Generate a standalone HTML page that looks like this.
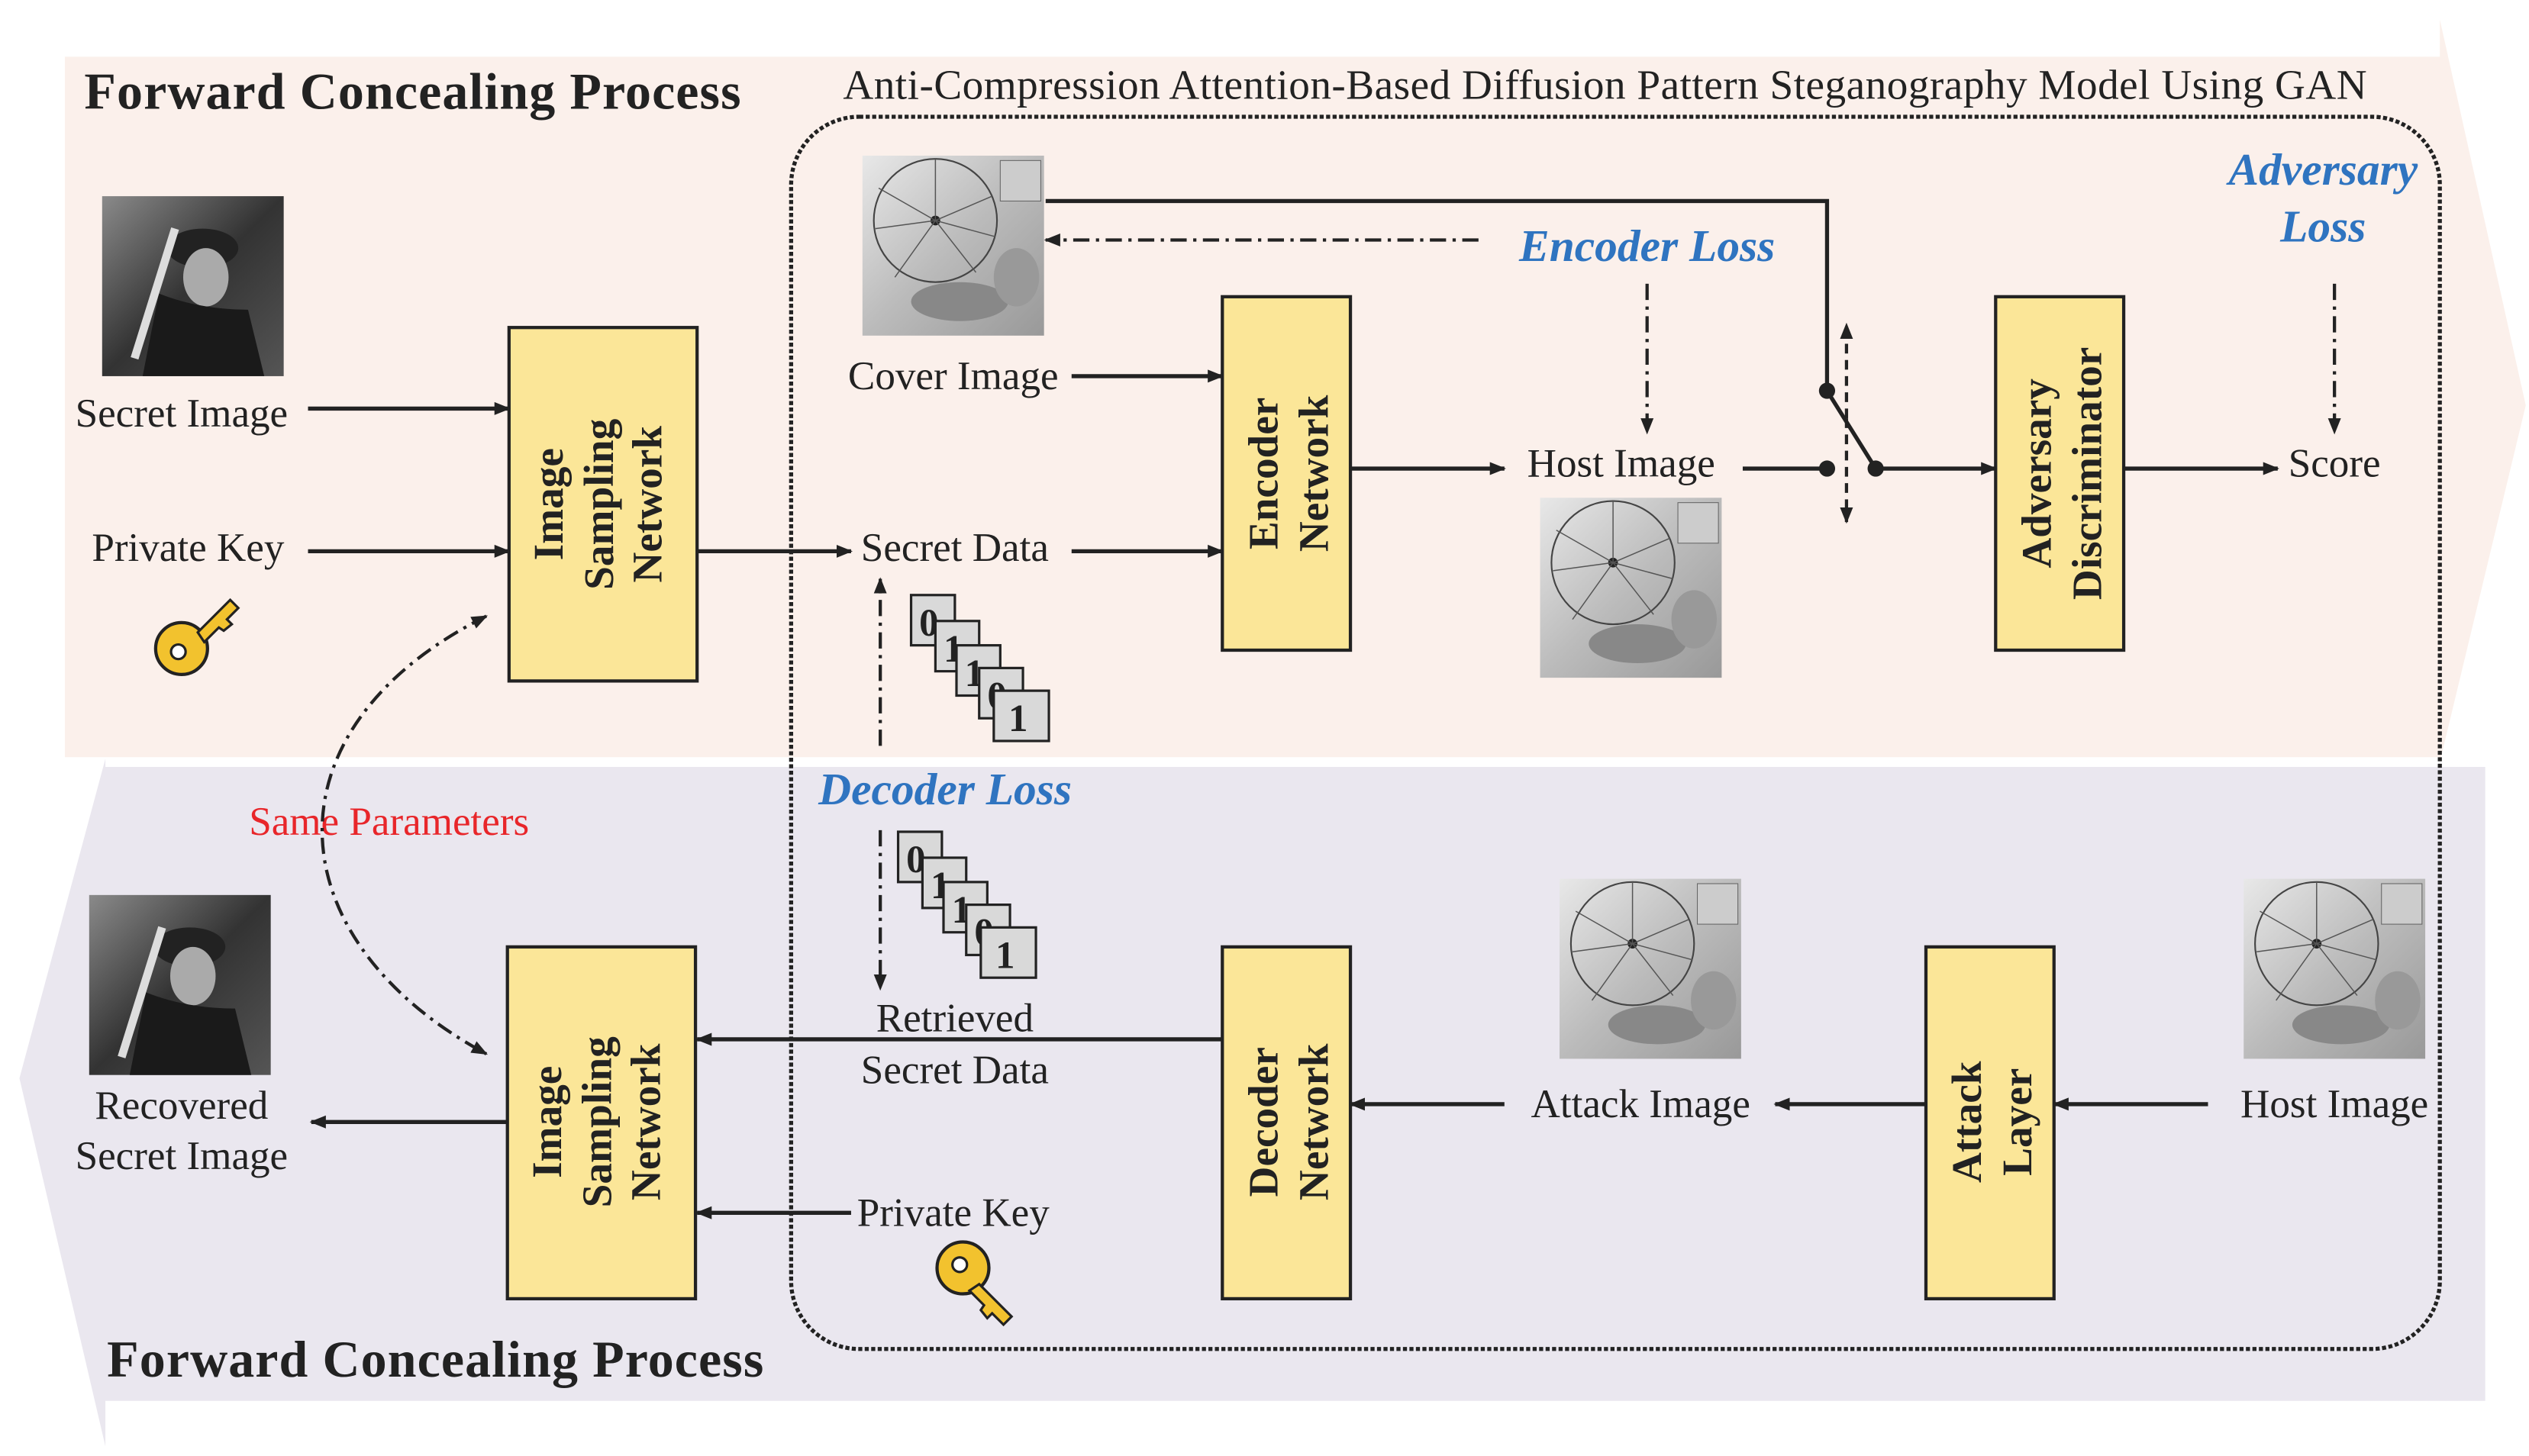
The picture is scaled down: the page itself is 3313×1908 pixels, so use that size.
<!DOCTYPE html>
<html><head><meta charset="utf-8"><style>html,body{margin:0;padding:0;background:#fff}svg{display:block}</style></head>
<body>
<svg width="3313" height="1908" viewBox="0 0 1560 898" preserveAspectRatio="none" xmlns="http://www.w3.org/2000/svg" font-family="Liberation Serif, serif">
<defs>
<marker id="a" markerWidth="10" markerHeight="10" refX="9" refY="5" orient="auto" markerUnits="userSpaceOnUse"><path d="M0,1 L10,5 L0,9 Z" fill="#222"/></marker>
<marker id="s" markerWidth="10" markerHeight="10" refX="1" refY="5" orient="auto" markerUnits="userSpaceOnUse"><path d="M10,1 L0,5 L10,9 Z" fill="#222"/></marker>
<linearGradient id="g1" x1="0" y1="0" x2="1" y2="1"><stop offset="0" stop-color="#8a8a8a"/><stop offset="0.5" stop-color="#333"/><stop offset="1" stop-color="#555"/></linearGradient>
<linearGradient id="g2" x1="0" y1="0" x2="1" y2="1"><stop offset="0" stop-color="#e8e8e8"/><stop offset="0.5" stop-color="#bbb"/><stop offset="1" stop-color="#999"/></linearGradient>
<g id="cov"><rect width="112" height="111" fill="url(#g2)"/><circle cx="45" cy="40" r="38" fill="none" stroke="#444" stroke-width="1"/><circle cx="45" cy="40" r="3" fill="#222"/><path d="M45,40 L10,20 M45,40 L80,25 M45,40 L20,75 M45,40 L70,72 M45,40 L45,2 M45,40 L8,45 M45,40 L82,50" stroke="#555" stroke-width="0.7"/><rect x="85" y="3" width="25" height="25" fill="#ccc" stroke="#666" stroke-width="0.5"/><ellipse cx="60" cy="90" rx="30" ry="12" fill="#888"/><ellipse cx="95" cy="75" rx="14" ry="18" fill="#999"/></g>
<g id="man"><rect width="112" height="111" fill="url(#g1)"/><ellipse cx="62" cy="32" rx="22" ry="12" fill="#222"/><ellipse cx="64" cy="50" rx="14" ry="18" fill="#aaa"/><path d="M25,111 L35,60 Q60,70 90,70 L100,111 Z" fill="#1a1a1a"/><path d="M20,100 L45,20" stroke="#ddd" stroke-width="5"/></g>
<g id="key"><circle cx="0" cy="0" r="16" fill="#f2c22e" stroke="#222" stroke-width="2"/><circle cx="-2" cy="2" r="4.5" fill="#fff" stroke="#222" stroke-width="1.5"/><path d="M10,-10 L30,-30 L35,-25 L28,-18 L31,-15 L26,-11 L23,-13 L14,-4 Z" fill="#f2c22e" stroke="#222" stroke-width="1.5"/></g>
<g id="bits" font-size="24" font-weight="bold" fill="#222"><rect x="0" y="0" width="27" height="31" fill="#d9d9d9" stroke="#222" stroke-width="1.5"/><text x="5" y="25">0</text><rect x="15" y="16" width="27" height="31" fill="#d9d9d9" stroke="#222" stroke-width="1.5"/><text x="20" y="41">1</text><rect x="28" y="31" width="27" height="31" fill="#d9d9d9" stroke="#222" stroke-width="1.5"/><text x="33" y="56">1</text><rect x="42" y="45" width="27" height="31" fill="#d9d9d9" stroke="#222" stroke-width="1.5"/><text x="47" y="70">0</text><rect x="51" y="59" width="34" height="31" fill="#d9d9d9" stroke="#222" stroke-width="1.5"/><text x="60" y="84">1</text></g>
</defs>
<path d="M40,35 L1505,35 L1505,12 L1558,250 L1505,470 L1505,467 L40,467 Z" fill="#fbf0eb"/>
<path d="M65,473 L1533,473 L1533,864 L65,864 L65,892 L12,665 L65,468 Z" fill="#eae7ef"/>
<rect x="488" y="72" width="1017" height="760" rx="42" fill="none" stroke="#222" stroke-width="2.5" stroke-dasharray="2.5,1.5"/>
<text x="52" y="67" font-size="32" font-weight="bold" fill="#222" textLength="405">Forward Concealing Process</text>
<text x="66" y="849" font-size="32" font-weight="bold" fill="#222" textLength="405">Forward Concealing Process</text>
<text x="520" y="61" font-size="26" fill="#222" textLength="940">Anti-Compression Attention-Based Diffusion Pattern Steganography Model Using GAN</text>
<g fill="#fbe698" stroke="#222" stroke-width="2">
<rect x="314" y="202" width="116" height="218"/><rect x="754" y="183" width="79" height="218"/><rect x="1231" y="183" width="79" height="218"/>
<rect x="313" y="584" width="116" height="217"/><rect x="754" y="584" width="79" height="217"/><rect x="1188" y="584" width="79" height="217"/>
</g>
<g font-size="26" font-weight="bold" fill="#222" text-anchor="middle">
<text transform="translate(372,311) rotate(-90)"><tspan x="0" y="-25">Image</tspan><tspan x="0" y="6">Sampling</tspan><tspan x="0" y="36">Network</tspan></text>
<text transform="translate(371,692) rotate(-90)"><tspan x="0" y="-25">Image</tspan><tspan x="0" y="6">Sampling</tspan><tspan x="0" y="36">Network</tspan></text>
<text transform="translate(793,292) rotate(-90)"><tspan x="0" y="-5">Encoder</tspan><tspan x="0" y="26">Network</tspan></text>
<text transform="translate(1270,292) rotate(-90)"><tspan x="0" y="-5">Adversary</tspan><tspan x="0" y="26">Discriminator</tspan></text>
<text transform="translate(793,692) rotate(-90)"><tspan x="0" y="-5">Decoder</tspan><tspan x="0" y="26">Network</tspan></text>
<text transform="translate(1227,692) rotate(-90)"><tspan x="0" y="-5">Attack</tspan><tspan x="0" y="26">Layer</tspan></text>
</g>
<use href="#man" x="63" y="121"/><use href="#man" x="55" y="552"/>
<use href="#cov" x="532" y="96"/><use href="#cov" x="950" y="307"/><use href="#cov" x="962" y="542"/><use href="#cov" x="1384" y="542"/>
<use href="#key" x="112" y="400"/>
<use href="#key" transform="translate(594,782) rotate(90)"/>
<use href="#bits" x="562" y="367"/><use href="#bits" x="554" y="513"/>
<g font-size="25" fill="#222" text-anchor="middle">
<text x="112" y="263">Secret Image</text><text x="116" y="346">Private Key</text>
<text x="588" y="240">Cover Image</text><text x="589" y="346">Secret Data</text>
<text x="1000" y="294">Host Image</text><text x="1440" y="294">Score</text>
<text x="589" y="636">Retrieved</text><text x="589" y="668">Secret Data</text>
<text x="588" y="756">Private Key</text>
<text x="1012" y="689">Attack Image</text><text x="1440" y="689">Host Image</text>
<text x="112" y="690">Recovered</text><text x="112" y="721">Secret Image</text>
<text x="240" y="515" fill="#e8262a">Same Parameters</text>
</g>
<g font-size="28" font-weight="bold" font-style="italic" fill="#2f74c0" text-anchor="middle">
<text x="1016" y="161">Encoder Loss</text><text x="583" y="496">Decoder Loss</text>
<text x="1433" y="114">Adversary</text><text x="1433" y="149">Loss</text>
</g>
<g stroke="#222" stroke-width="2.5" fill="none" marker-end="url(#a)">
<path d="M190,252 L314,252"/><path d="M190,340 L314,340"/><path d="M430,340 L525,340"/>
<path d="M661,232 L754,232"/><path d="M661,340 L754,340"/><path d="M833,289 L928,289"/>
<path d="M1157,289 L1231,289"/><path d="M1310,289 L1405,289"/>
<path d="M754,641 L430,641"/><path d="M525,748 L430,748"/><path d="M313,692 L192,692"/>
<path d="M928,681 L833,681"/><path d="M1188,681 L1095,681"/><path d="M1362,681 L1267,681"/>
</g>
<g stroke="#222" stroke-width="2.5" fill="none">
<path d="M645,124 L1127,124 L1127,241 L1157,289"/><path d="M1075,289 L1127,289"/>
</g>
<circle cx="1127" cy="241" r="5" fill="#222"/><circle cx="1127" cy="289" r="5" fill="#222"/><circle cx="1157" cy="289" r="5" fill="#222"/>
<g stroke="#222" stroke-width="2" fill="none" stroke-dasharray="6,4" marker-end="url(#a)">
<path d="M1139,258 L1139,200"/><path d="M1139,258 L1139,322"/>
</g>
<g stroke="#222" stroke-width="2" fill="none" stroke-dasharray="10,4,2,4" marker-end="url(#a)">
<path d="M912,148 L645,148"/><path d="M1016,175 L1016,267"/><path d="M1440,175 L1440,267"/>
<path d="M543,460 L543,357"/><path d="M543,512 L543,610"/>
</g>
<path d="M300,380 C160,450 170,580 300,650" stroke="#222" stroke-width="2" fill="none" stroke-dasharray="10,4,2,4" marker-start="url(#s)" marker-end="url(#a)"/>
</svg>
</body></html>
